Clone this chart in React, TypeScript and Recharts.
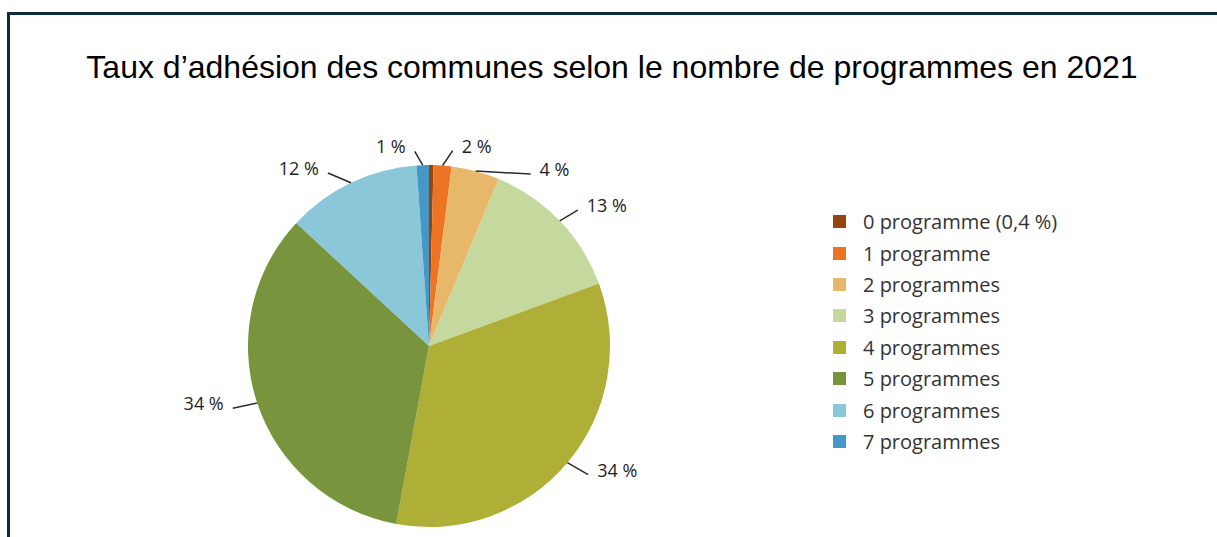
import { PieChart, Pie, Cell } from "recharts";

const categories = [
  "0 programme (0,4 %)",
  "1 programme",
  "2 programmes",
  "3 programmes",
  "4 programmes",
  "5 programmes",
  "6 programmes",
  "7 programmes",
];
const shares = [0.4, 1.6, 4.3, 13.1, 33.5, 34.0, 12.0, 1.1];
const colors = ["#96450f", "#ec7524", "#e8b86a", "#c5d89d", "#afaf38", "#78943c", "#8ac7d9", "#4597c5"];

// leader line direction (deg, math convention) and length, per slice
const lineDir = [0, 56, -3, 31, -30, 192, 157, 120];
const lineLen = [0, 18, 55, 21, 24, 25, 25, 16];

const data = categories.map((name, i) => ({ name, value: shares[i] }));
const RAD = Math.PI / 180;
const labelFont = "'Open Sans', 'Noto Sans', sans-serif";

function renderLabel(props: any) {
  const { cx, cy, midAngle, outerRadius, index, value } = props;
  if (value < 1) return null;
  const sx = cx + outerRadius * Math.cos(-midAngle * RAD);
  const sy = cy + outerRadius * Math.sin(-midAngle * RAD);
  const d = lineDir[index];
  const ex = sx + lineLen[index] * Math.cos(-d * RAD);
  const ey = sy + lineLen[index] * Math.sin(-d * RAD);
  const right = Math.cos(d * RAD) >= 0;
  return (
    <g>
      <line x1={sx} y1={sy} x2={ex} y2={ey} stroke="#2a2a2a" strokeWidth={1.5} />
      <text
        x={ex + (right ? 9 : -9)}
        y={ey - 5}
        textAnchor={right ? "start" : "end"}
        dominantBaseline="central"
        fontFamily={labelFont}
        fontSize={18}
        fill="#1e1e1e"
      >
        {`${Math.round(value)} %`}
      </text>
    </g>
  );
}

function LegendBox() {
  return (
    <div style={{ fontFamily: labelFont, fontSize: 20, color: "#333" }}>
      {categories.map((c, i) => (
        <div key={c} style={{ display: "flex", alignItems: "center", height: 31.4 }}>
          <span style={{ width: 13, height: 13, background: colors[i], display: "inline-block", marginRight: 17 }} />
          <span>{c}</span>
        </div>
      ))}
    </div>
  );
}

export default function App() {
  return (
    <div style={{ position: "fixed", left: 0, top: 0, width: 1217, height: 537, background: "#fff", overflow: "hidden" }}>
      <div
        style={{
          position: "absolute",
          left: 7,
          top: 12,
          width: 1260,
          height: 580,
          border: "3px solid #0d2b3e",
          boxSizing: "border-box",
        }}
      />
      <div
        style={{
          position: "absolute",
          left: 7,
          top: 49,
          width: 1210,
          textAlign: "center",
          fontFamily: "'Liberation Sans', Arial, sans-serif",
          fontSize: 32,
          lineHeight: "37px",
          color: "#000",
        }}
      >
        Taux d’adhésion des communes selon le nombre de programmes en 2021
      </div>
      <div style={{ position: "absolute", left: 0, top: 0 }}>
        <PieChart width={1217} height={537} margin={{ top: 0, right: 0, bottom: 0, left: 0 }}>
          <Pie
            data={data}
            dataKey="value"
            nameKey="name"
            cx={429}
            cy={346}
            outerRadius={181}
            startAngle={90}
            endAngle={-270}
            stroke="none"
            label={renderLabel}
            labelLine={false}
            isAnimationActive={false}
          >
            {data.map((d, i) => (
              <Cell key={d.name} fill={colors[i]} />
            ))}
          </Pie>
        </PieChart>
      </div>
      <div style={{ position: "absolute", left: 833, top: 206 }}>
        <LegendBox />
      </div>
    </div>
  );
}
